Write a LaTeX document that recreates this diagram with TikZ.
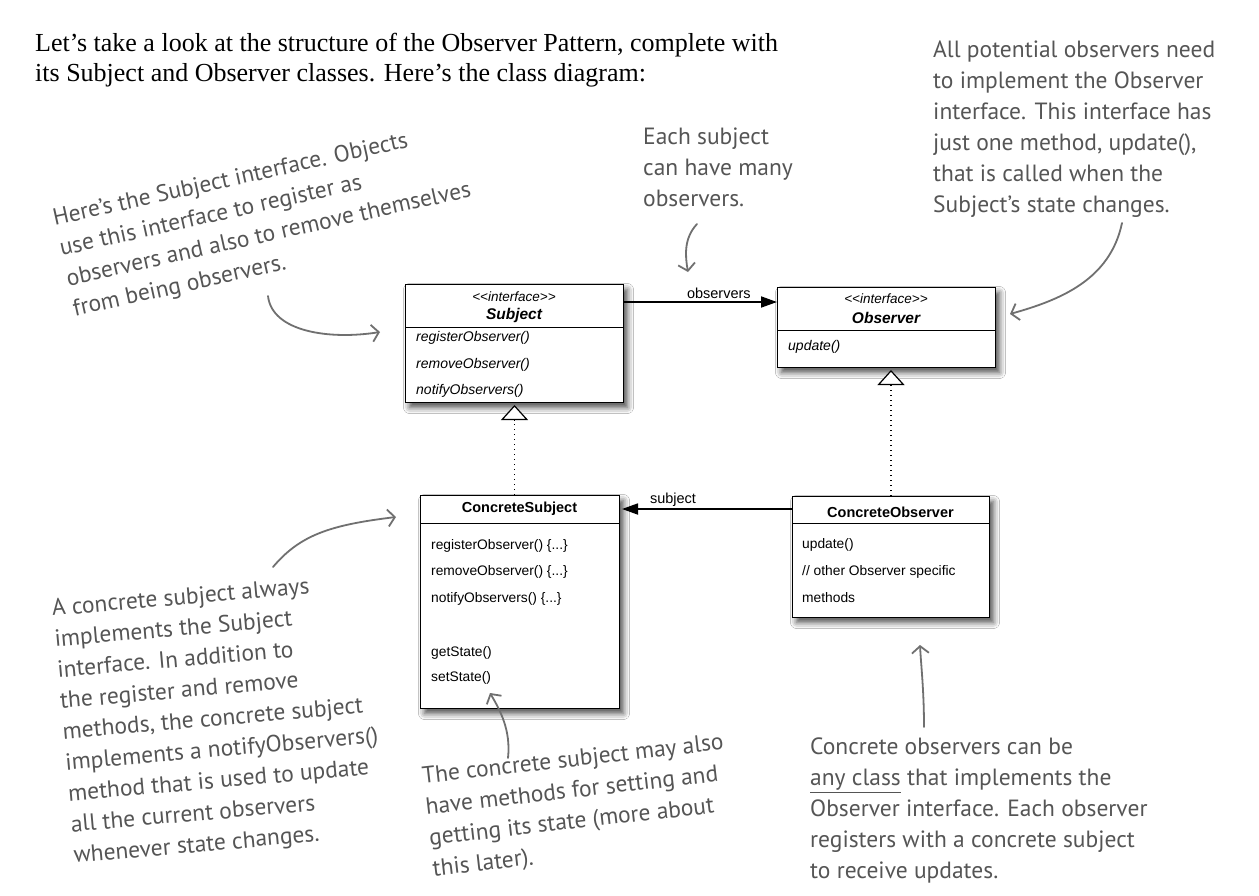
\documentclass[tikz,border=0pt]{standalone}
\usepackage{fontspec}
\setmainfont{Liberation Serif}
\newfontfamily\umlfont{Liberation Sans}
\newfontfamily\handfont{PT Sans}
\usetikzlibrary{arrows.meta,shadows.blur,calc}
\definecolor{handcol}{HTML}{555555}
\definecolor{handarrow}{HTML}{707070}
\tikzset{
  umlbox/.style={draw, line width=1pt, fill=white, inner sep=0pt, anchor=north west,
    blur shadow={shadow xshift=4pt, shadow yshift=-5pt, shadow blur radius=6pt, shadow opacity=70}},
  divider/.style={line width=0.9pt},
  stereo/.style={font=\umlfont\itshape\fontsize{13.5}{15}\selectfont, inner sep=0pt},
  iname/.style={font=\umlfont\bfseries\itshape\fontsize{15.5}{17}\selectfont, inner sep=0pt},
  cname/.style={font=\umlfont\bfseries\fontsize{14.5}{17}\selectfont, inner sep=0pt},
  imeth/.style={font=\umlfont\itshape\fontsize{14}{16}\selectfont, inner sep=0pt, anchor=west},
  cmeth/.style={font=\umlfont\fontsize{13.8}{16}\selectfont, inner sep=0pt, anchor=west},
  lbl/.style={font=\umlfont\fontsize{14.5}{16}\selectfont, inner sep=1pt},
  assoc/.style={line width=1.8pt, -{Triangle[length=16pt, width=11pt]}},
  realize/.style={line width=1.3pt, dash pattern=on 1.3pt off 3.7pt,
    -{Triangle[open, length=15pt, width=27pt, line width=1.2pt, fill=white]}},
  hand/.style={font=\handfont\fontsize{23.5}{31}\selectfont, text=handcol, inner sep=0pt, align=left, anchor=north west},
  handarr/.style={draw=handarrow, line width=1.8pt, line cap=round,
    -{Straight Barb[length=7pt, width=17pt, line width=1.8pt]}},
  intro/.style={font=\fontsize{26}{30}\selectfont, inner sep=0pt, align=left, anchor=north west}
}
\begin{document}
\begin{tikzpicture}[x=1pt, y=-1pt]
\fill[white] (0,0) rectangle (1259,895);
\useasboundingbox (0,0) rectangle (1259,895);

% intro text
\node[intro] (intro) at (35,33) {Let’s take a look at the structure of the Observer Pattern, complete with\\its Subject and Observer classes. Here’s the class diagram:};

% Subject interface
\node[umlbox, minimum width=218pt, minimum height=118pt] (subj) at (405,284) {};
\draw[divider] (405,327) -- (623,327);
\node[stereo] (subjst) at (514,297) {<{}<interface>{}>};
\node[iname] (subjnm) at (514,315) {Subject};
\node[imeth] (sm1) at (416,338) {registerObserver()};
\node[imeth] (sm2) at (416,365) {removeObserver()};
\node[imeth] (sm3) at (416,391) {notifyObservers()};

% Observer interface
\node[umlbox, minimum width=218pt, minimum height=80pt] (obs) at (777,287) {};
\draw[divider] (777,330) -- (995,330);
\node[stereo] (obsst) at (886,299) {<{}<interface>{}>};
\node[iname] (obsnm) at (886,318) {Observer};
\node[imeth] (om1) at (788,347) {update()};

% ConcreteSubject
\node[umlbox, minimum width=199pt, minimum height=213pt] (csubj) at (420,495) {};
\draw[divider] (420,523) -- (619,523);
\node[cname] (csnm) at (519.5,509) {ConcreteSubject};
\node[cmeth] (cs1) at (431,546) {registerObserver() \{...\}};
\node[cmeth] (cs2) at (431,572) {removeObserver() \{...\}};
\node[cmeth] (cs3) at (431,599) {notifyObservers() \{...\}};
\node[cmeth] (cs4) at (431,653) {getState()};
\node[cmeth] (cs5) at (431,678) {setState()};

% ConcreteObserver
\node[umlbox, minimum width=197pt, minimum height=121pt] (cobs) at (792,496) {};
\draw[divider] (792,523) -- (989,523);
\node[cname] (conm) at (890.5,512) {ConcreteObserver};
\node[cmeth] (co1) at (802,545) {update()};
\node[cmeth] (co2) at (802,572) {// other Observer specific};
\node[cmeth] (co3) at (802,598) {methods};

% associations
\coordinate (yobs) at (0,302);
\coordinate (ysub) at (0,509);
\draw[assoc] (subj.east |- yobs) -- node[pos=0.62, above=1pt, lbl] {observers} (obs.west |- yobs);
\draw[assoc] (cobs.west |- ysub) -- node[pos=0.7, above=1pt, lbl] {subject} ([xshift=2pt]csubj.east |- ysub);

% realizations
\draw[realize] (subj.south |- csubj.north) -- ([yshift=-2pt]subj.south);
\draw[realize] (cobs.north) -- ([yshift=-2pt]cobs.north |- obs.south);

% handwritten notes
\node[hand, rotate=12.5] (n1) at (51,209) {Here’s the Subject interface. Objects\\use this interface to register as\\observers and also to remove themselves\\from being observers.};
\node[hand] (n2) at (643,128) {Each subject\\can have many\\observers.};
\node[hand] (n3) at (933,41) {All potential observers need\\to implement the Observer\\interface. This interface has\\just one method, update(),\\that is called when the\\Subject’s state changes.};
\node[hand, rotate=5] (n4) at (51,599) {A concrete subject always\\implements the Subject\\interface. In addition to\\the register and remove\\methods, the concrete subject\\implements a notifyObservers()\\method that is used to update\\all the current observers\\whenever state changes.};
\node[hand, rotate=6.5] (n5) at (421,767) {The concrete subject may also\\have methods for setting and\\getting its state (more about\\this later).};
\node[hand] (n6) at (810,738) {Concrete observers can be\\\underline{any class} that implements the\\Observer interface. Each observer\\registers with a concrete subject\\to receive updates.};

% handwritten arrows
\coordinate (a1s) at (268,296);
\coordinate (a1e) at (380,332);
\draw[handarr] (a1s) .. controls (272,332) and (330,340) .. (a1e);
\coordinate (a2s) at (697,224);
\coordinate (a2e) at (688,272);
\draw[handarr] (a2s) .. controls (684,238) and (685,255) .. (a2e);
\coordinate (a3s) at (1122,223);
\coordinate (a3e) at (1010,314);
\draw[handarr] (a3s) .. controls (1110,280) and (1060,300) .. (a3e);
\coordinate (a4s) at (273,567);
\coordinate (a4e) at (396,517);
\draw[handarr] (a4s) .. controls (300,535) and (330,525) .. (a4e);
\coordinate (a5s) at (508,758);
\coordinate (a5e) at (490,693);
\draw[handarr] (a5s) .. controls (511,730) and (500,710) .. (a5e);
\coordinate (a6s) at (924,727);
\coordinate (a6e) at (920,645);
\draw[handarr] (a6s) .. controls (924,690) and (921,665) .. (a6e);
\end{tikzpicture}
\end{document}
